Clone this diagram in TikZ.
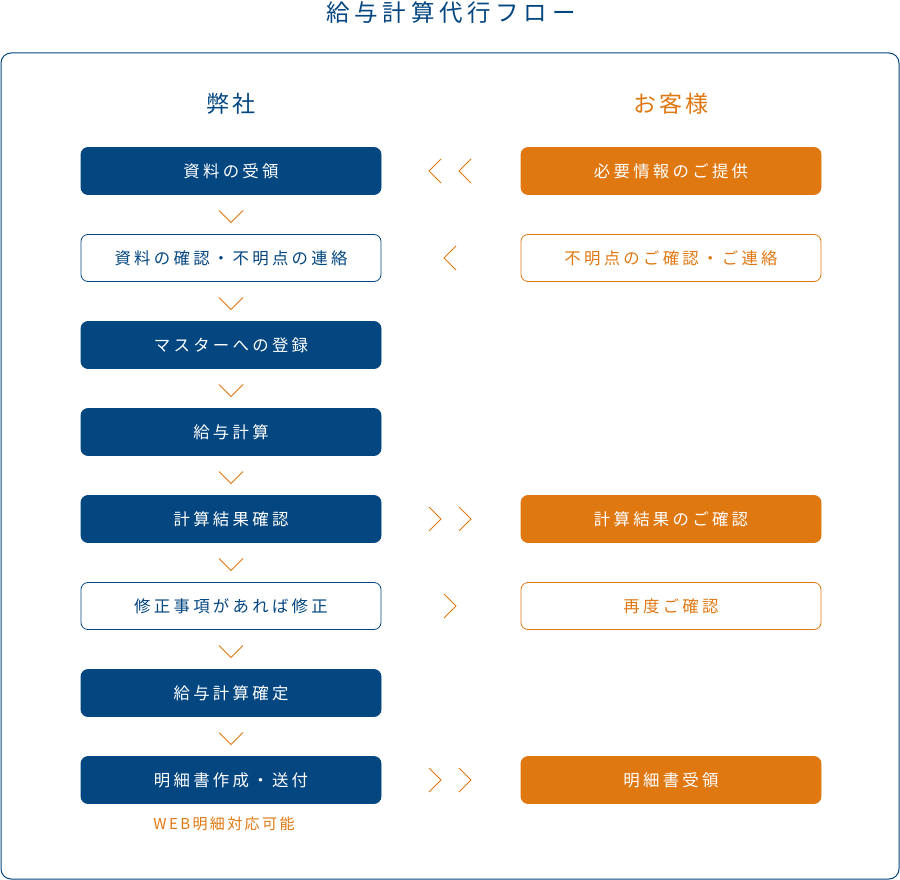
\documentclass[tikz,border=0pt]{standalone}
\usepackage{fontspec}
\setmainfont{Noto Sans CJK JP}
\usetikzlibrary{positioning}
\definecolor{navy}{HTML}{034680}
\definecolor{orng}{HTML}{E07812}
\tikzset{
  every node/.style={inner sep=0pt},
  boxbase/.style={minimum width=300pt, minimum height=47pt, rounded corners=7pt, line width=0.8pt, font=\fontsize{16.4pt}{18pt}\selectfont\addfontfeature{LetterSpace=20}},
  navyfill/.style={boxbase, fill=navy, draw=navy, text=white},
  navyline/.style={boxbase, fill=white, draw=navy, text=navy},
  orngfill/.style={boxbase, fill=orng, draw=orng, text=white},
  orngline/.style={boxbase, fill=white, draw=orng, text=orng},
  chev/.style={draw=orng, line width=0.8pt},
}
\begin{document}
\begin{tikzpicture}[x=1pt,y=-1pt]
\useasboundingbox (0,0) rectangle (900,880);
\fill[white] (0,0) rectangle (900,880);
\draw[navy, line width=1pt, rounded corners=10pt] (1,53) rectangle (899,879);
\node[text=navy, font=\fontsize{23.5pt}{26pt}\selectfont\addfontfeature{LetterSpace=20}] (title) at (451,13) {給与計算代行フロー};
\node[text=navy, font=\fontsize{23pt}{26pt}\selectfont\addfontfeature{LetterSpace=12}] (hl) at (231,104) {弊社};
\node[text=orng, font=\fontsize{23pt}{26pt}\selectfont\addfontfeature{LetterSpace=12}] (hr) at (671,104) {お客様};
% left column
\node[navyfill] (l1) at (231,171) {資料の受領};
\node[navyline] (l2) at (231,258) {資料の確認・不明点の連絡};
\node[navyfill] (l3) at (231,345) {マスターへの登録};
\node[navyfill] (l4) at (231,432) {給与計算};
\node[navyfill] (l5) at (231,519) {計算結果確認};
\node[navyline] (l6) at (231,606) {修正事項があれば修正};
\node[navyfill] (l7) at (231,693) {給与計算確定};
\node[navyfill] (l8) at (231,780) {明細書作成・送付};
% right column
\node[orngfill] (r1) at (671,171) {必要情報のご提供};
\node[orngline] (r2) at (671,258) {不明点のご確認・ご連絡};
\node[orngfill] (r5) at (671,519) {計算結果のご確認};
\node[orngline] (r6) at (671,606) {再度ご確認};
\node[orngfill] (r8) at (671,780) {明細書受領};
\node[text=orng, font=\fontsize{15pt}{17pt}\selectfont\addfontfeature{LetterSpace=16}] (web) at (224,824) {WEB明細対応可能};
% down chevrons
\foreach \a/\b in {l1/l2,l2/l3,l3/l4,l4/l5,l5/l6,l6/l7,l7/l8}{
  \path (\a.south) -- (\b.north) coordinate[midway] (m\a);
  \draw[chev] ([xshift=-12pt,yshift=4pt]m\a) -- ([yshift=-8pt]m\a) -- ([xshift=12pt,yshift=4pt]m\a);
}
% side chevrons
\coordinate (c1) at (450,171);
\coordinate (c2) at (450,258);
\coordinate (c5) at (450,519);
\coordinate (c6) at (450,606);
\coordinate (c8) at (450,780);
\foreach \d in {-15,15}{
  \draw[chev] ([xshift=\d pt+6pt,yshift=-12pt]c1) -- ([xshift=\d pt-6pt]c1) -- ([xshift=\d pt+6pt,yshift=12pt]c1);
  \draw[chev] ([xshift=\d pt-6pt,yshift=-12pt]c5) -- ([xshift=\d pt+6pt]c5) -- ([xshift=\d pt-6pt,yshift=12pt]c5);
  \draw[chev] ([xshift=\d pt-6pt,yshift=-12pt]c8) -- ([xshift=\d pt+6pt]c8) -- ([xshift=\d pt-6pt,yshift=12pt]c8);
}
\draw[chev] ([xshift=6pt,yshift=-12pt]c2) -- ([xshift=-6pt]c2) -- ([xshift=6pt,yshift=12pt]c2);
\draw[chev] ([xshift=-6pt,yshift=-12pt]c6) -- ([xshift=6pt]c6) -- ([xshift=-6pt,yshift=12pt]c6);
\end{tikzpicture}
\end{document}
